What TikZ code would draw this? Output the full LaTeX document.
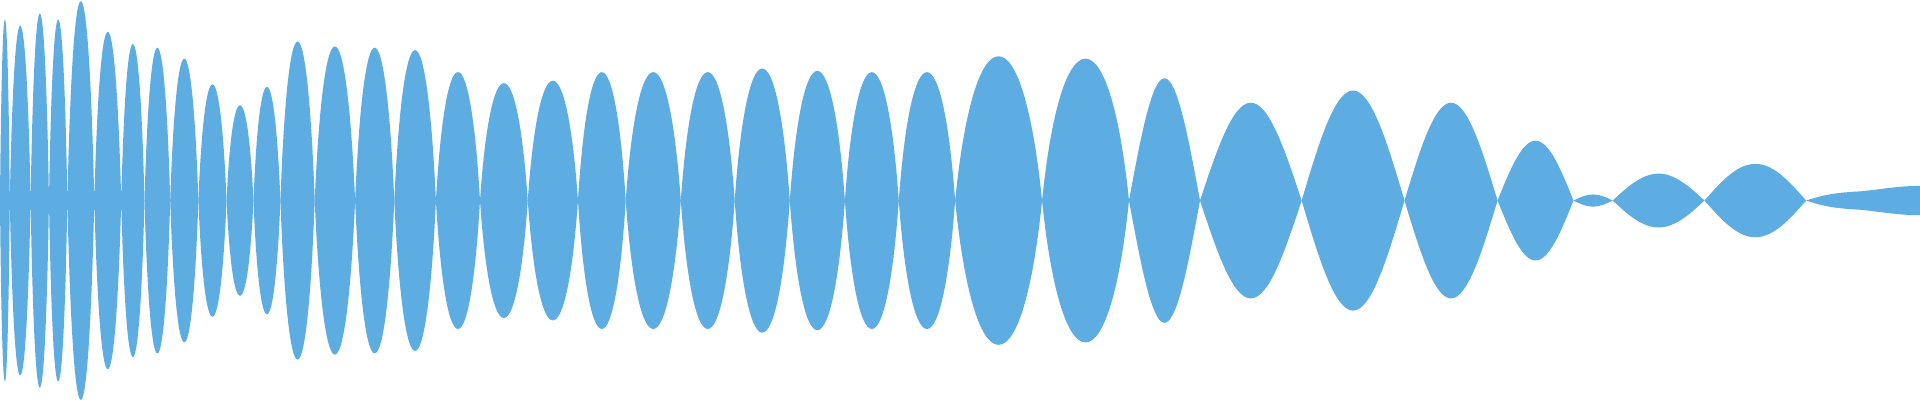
\documentclass[tikz,border=0pt]{standalone}
\definecolor{wave}{HTML}{5DADE2}
\begin{document}
\begin{tikzpicture}[x=0.02449cm,y=0.02446cm]
\useasboundingbox (0,-163) rectangle (1568,164);
\fill[wave] (0,-8) rectangle (118,8);
\foreach \a/\b/\A in {0/8/148,8/25/143,25/40/153,40/55/148,55/77/163,77/99/138,99/118/128,118/139/125,139/162/116,162/185/95,185/207/78,207/229/93,229/257/130,257/290/126,290/322/125,322/356/123,356/392/105,392/431/96,431/472/98,472/511/105,511/556/105,556/600/105,600/645/108,645/690/106,690/734/105,734/780/105,780/851/118,851/922/116}{
  \pgfmathsetmacro\m{(\a+\b)/2}
  \pgfmathsetmacro\w{\b-\a}
  \fill[wave] (\a,0) .. controls (\a+0.1*\w,0.6*\A) and (\m-0.22*\w,\A) .. (\m,\A)
     .. controls (\m+0.22*\w,\A) and (\b-0.1*\w,0.6*\A) .. (\b,0)
     .. controls (\b-0.1*\w,-0.6*\A) and (\m+0.22*\w,-\A) .. (\m,-\A)
     .. controls (\m-0.22*\w,-\A) and (\a+0.1*\w,-0.6*\A) .. (\a,0) -- cycle;
}
\foreach \a/\b/\A in {922/980/100,980/1063/80,1063/1147/90,1147/1223/80,1223/1285/49,1285/1317/5,1317/1392/22,1392/1475/30}{
  \pgfmathsetmacro\m{(\a+\b)/2}
  \fill[wave] (\a,0) sin (\m,\A) cos (\b,0) sin (\m,-\A) cos (\a,0) -- cycle;
}
\fill[wave] (1475,0) .. controls (1490,5) and (1500,6.5) .. (1519,7.5) .. controls (1535,9) and (1550,12) .. (1568,12) -- (1568,-12) .. controls (1550,-12) and (1535,-9) .. (1519,-7.5) .. controls (1500,-6.5) and (1490,-5) .. (1475,0) -- cycle;
\end{tikzpicture}
\end{document}
